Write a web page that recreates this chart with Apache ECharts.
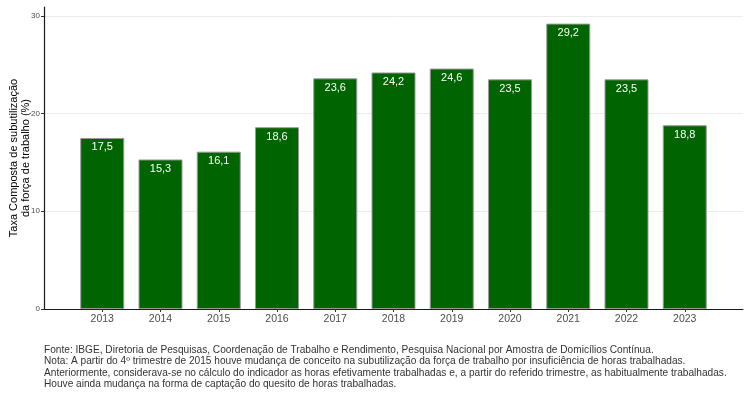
<!DOCTYPE html>
<html>
<head>
<meta charset="utf-8">
<script src="https://cdn.jsdelivr.net/npm/echarts@6/dist/echarts.min.js"></script>
<style>
html,body{margin:0;padding:0;background:#fff;}
#c{width:750px;height:394px;}
</style>
</head>
<body>
<div id="c"></div>
<script>
const years = [2013, 2014, 2015, 2016, 2017, 2018, 2019, 2020, 2021, 2022, 2023];
const values = [17.5, 15.3, 16.1, 18.6, 23.6, 24.2, 24.6, 23.5, 29.2, 23.5, 18.8];
const yTicks = [0, 10, 20, 30];
const yTitle = 'Taxa Composta de subutilização\nda força de trabalho (%)';
const footnote = [
  'Fonte: IBGE, Diretoria de Pesquisas, Coordenação de Trabalho e Rendimento, Pesquisa Nacional por Amostra de Domicílios Contínua.',
  'Nota: A partir do 4º trimestre de 2015 houve mudança de conceito na subutilização da força de trabalho por insuficiência de horas trabalhadas.',
  'Anteriormente, considerava-se no cálculo do indicador as horas efetivamente trabalhadas e, a partir do referido trimestre, as habitualmente trabalhadas.',
  'Houve ainda mudança na forma de captação do quesito de horas trabalhadas.'
];
const font = '"Liberation Sans", Arial, sans-serif';
const chart = echarts.init(document.getElementById('c'), null, {renderer: 'canvas'});
chart.setOption({
  animation: false,
  backgroundColor: '#ffffff',
  textStyle: {fontFamily: font},
  grid: {left: 44, right: 7, top: 7, bottom: 85, containLabel: false, outerBoundsMode: 'none'},
  xAxis: {
    type: 'value',
    min: years[0] - 1,
    max: years[years.length - 1] + 1,
    interval: 1,
    splitLine: {show: false},
    axisLine: {show: true, onZero: false, lineStyle: {color: '#1a1a1a', width: 1.2}},
    axisTick: {show: true, customValues: years, length: 3, lineStyle: {color: '#333'}},
    axisLabel: {customValues: years, color: '#4d4d4d', fontSize: 10.5, margin: 5, fontFamily: font,
      formatter: v => String(v)}
  },
  yAxis: {
    type: 'value',
    min: 0,
    max: 30.9,
    interval: 10,
    name: yTitle,
    nameLocation: 'middle',
    nameRotate: 90,
    nameGap: 24,
    nameMoveOverlap: false,
    nameTextStyle: {color: '#000', fontSize: 11, lineHeight: 12, fontFamily: font, align: 'center', verticalAlign: 'middle'},
    axisLine: {show: true, lineStyle: {color: '#1a1a1a', width: 1.2}},
    axisTick: {show: true, customValues: yTicks, length: 3, lineStyle: {color: '#333'}},
    axisLabel: {customValues: yTicks, color: '#4d4d4d', fontSize: 8, margin: 4, fontFamily: font},
    splitLine: {show: true, lineStyle: {color: '#ebebeb', width: 1}},
    minorSplitLine: {show: false}
  },
  series: [{
    type: 'bar',
    data: years.map((y, i) => [y, values[i]]),
    barWidth: 44,
    itemStyle: {color: '#006400', borderColor: '#999999', borderWidth: 1},
    label: {
      show: true,
      position: 'insideTop',
      distance: 4,
      color: '#ffffff',
      fontSize: 11,
      fontFamily: font,
      formatter: p => String(p.value[1].toFixed(1)).replace('.', ',')
    }
  }],
  graphic: [{
    type: 'text',
    left: 44,
    top: 344,
    style: {
      text: footnote.join('\n'),
      fill: '#333333',
      font: '10.15px ' + font,
      lineHeight: 11.6
    }
  }]
});
</script>
</body>
</html>
